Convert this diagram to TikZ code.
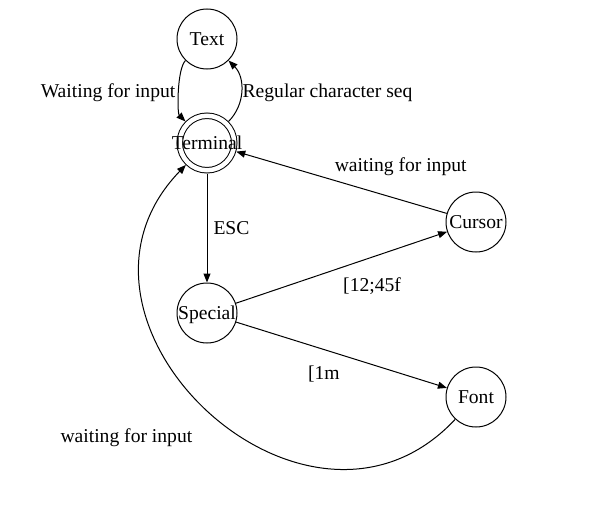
\documentclass[tikz,border=0pt]{standalone}
\usepackage{fontspec}
\setmainfont{Liberation Serif}
\usetikzlibrary{arrows.meta}

\newcommand{\statename}[1]{\makebox[0pt]{#1}}

\begin{document}
\begin{tikzpicture}[x=1pt, y=1pt, line width=1pt,
    >={Triangle[length=9pt,width=7pt]},
    every node/.style={font=\fontsize{19.6}{23}\selectfont},
    state/.style={circle, draw, minimum size=60pt, inner sep=0pt, outer sep=0.5pt, text depth=0pt},
    final/.style={state, double, double distance=4.5pt, minimum size=54.5pt, outer sep=3.25pt}]
    \useasboundingbox (0,0) rectangle (589,-514);
    % states
    \node[state] (text) at (207,-39) {\statename{Text}};
    \node[final] (terminal) at (207,-143) {\statename{Terminal}};
    \node[state] (special) at (207,-313) {\statename{Special}};
    \node[state] (cursor) at (476,-222) {\statename{Cursor}};
    \node[state] (font) at (476,-397) {\statename{Font}};
    % transitions
    \draw[->] (text) to[bend right=45, looseness=0.5] node[left, yshift=-2pt] {Waiting for input} (terminal);
    \draw[->] (terminal) to[bend right=45, looseness=1] node[right, inner sep=1pt, yshift=-2pt] {Regular character seq} (text);
    \draw[->] (terminal) -- node[right, inner sep=6pt] {ESC} (special);
    \draw[->] (special) -- node[pos=0.49, anchor=north west, yshift=-6pt] {[12;45f} (cursor);
    \draw[->] (cursor) -- node[pos=0.55, anchor=south west] {waiting for input} (terminal);
    \draw[->] (special) -- node[pos=0.5, anchor=north east, xshift=2pt, yshift=-7pt] {[1m} (font);
    \draw[->] (font) to[out=227, in=226, looseness=1.5] node[pos=0.5, anchor=north east, xshift=-12pt, yshift=-14pt] {waiting for input} (terminal);
\end{tikzpicture}
\end{document}
